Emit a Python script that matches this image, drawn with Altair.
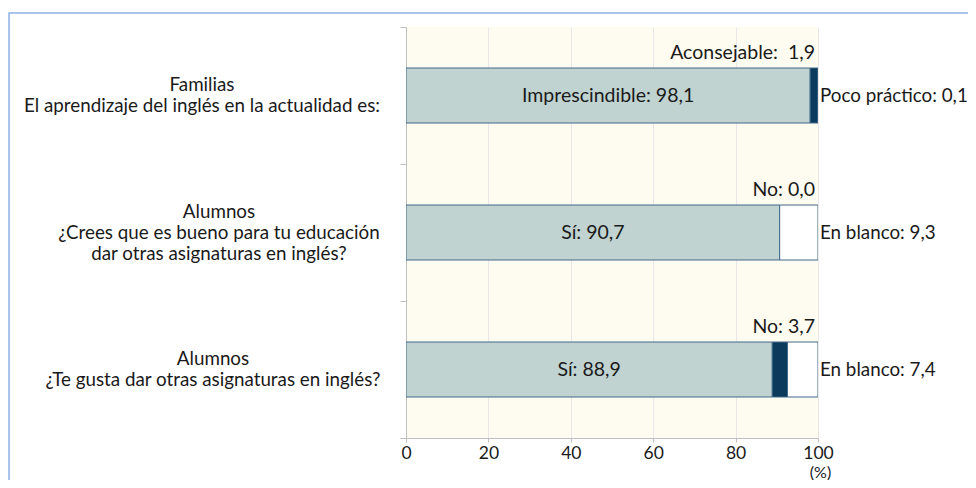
import altair as alt
import pandas as pd

# --- data ---
preguntas = [
    "Familias\nEl aprendizaje del inglés en la actualidad es:",
    "Alumnos\n¿Crees que es bueno para tu educación\ndar otras asignaturas en inglés?",
    "Alumnos\n¿Te gusta dar otras asignaturas en inglés?",
]
seg1_nombre = ["Imprescindible", "Sí", "Sí"]
seg1_valor = [98.1, 90.7, 88.9]
seg2_nombre = ["Aconsejable", "No", "No"]
seg2_valor = [1.9, 0.0, 3.7]
seg3_nombre = ["Poco práctico", "En blanco", "En blanco"]
seg3_valor = [0.1, 9.3, 7.4]
tipos = ["principal", "medio", "final"]
colores = ["#c0d3d1", "#0b3a5d", "#ffffff"]
x_ticks = [0, 20, 40, 60, 80, 100]

FONT = "Lato"
FS = 19.5
FS_LAB = 18.8
FS_RIGHT = 18.8
TXT = "#1a1a1a"
LH = 21


def fmt(v):
    return f"{v:.1f}".replace(".", ",")


rows = []
for i, q in enumerate(preguntas):
    rows.append(dict(pregunta=q, tipo="principal", orden=1, valor=seg1_valor[i]))
    rows.append(dict(pregunta=q, tipo="medio", orden=2, valor=seg2_valor[i]))
    rows.append(dict(pregunta=q, tipo="final", orden=3, valor=seg3_valor[i]))
bars_df = pd.DataFrame(rows)

in_df = pd.DataFrame({
    "pregunta": preguntas,
    "valor": seg1_valor,
    "texto": [f"{n}: {fmt(v)}" for n, v in zip(seg1_nombre, seg1_valor)],
})
top_df = pd.DataFrame({
    "pregunta": preguntas,
    "texto": [("Aconsejable:\u00a0\u00a0" if n == "Aconsejable" else f"{n}: ") + fmt(v)
              for n, v in zip(seg2_nombre, seg2_valor)],
})
right_df = pd.DataFrame({
    "pregunta": preguntas,
    "texto": [f"{n}: {fmt(v)}" for n, v in zip(seg3_nombre, seg3_valor)],
})
label_df = pd.DataFrame({"pregunta": preguntas, "etiqueta": preguntas})

y_sort = preguntas
y_enc = alt.Y(
    "pregunta:N",
    sort=y_sort,
    title=None,
    scale=alt.Scale(paddingInner=0, paddingOuter=0),
    axis=alt.Axis(
        labels=False,
        tickBand="extent",
        tickSize=6,
        tickColor="#bfbfbf",
        domainColor="#bfbfbf",
        grid=False,
    ),
)

x_scale = alt.Scale(domain=[0, 100], nice=False)

bars = alt.Chart(bars_df).mark_bar(size=55, stroke="#41698a", strokeWidth=1, clip=True).encode(
    x=alt.X(
        "valor:Q",
        stack="zero",
        scale=x_scale,
        axis=alt.Axis(
            values=x_ticks,
            title="(%)",
            titleX=414,
            titleY=34,
            titleAlign="center",
            titleBaseline="middle",
            titleFont=FONT,
            titleFontSize=16,
            titleFontWeight="normal",
            titleColor=TXT,
            labelFont=FONT,
            labelFontSize=17.5,
            labelColor=TXT,
            labelPadding=2,
            tickSize=4,
            tickColor="#bfbfbf",
            domainColor="#bfbfbf",
            gridColor="#e8e8e8",
            labelFlush=False,
        ),
    ),
    y=y_enc,
    color=alt.Color("tipo:N", scale=alt.Scale(domain=tipos, range=colores), legend=None),
    order=alt.Order("orden:Q"),
)

in_text = alt.Chart(in_df).transform_calculate(mid="datum.valor / 2").mark_text(
    font=FONT, fontSize=FS, color=TXT, align="center", baseline="middle"
).encode(x=alt.X("mid:Q", scale=x_scale), y=alt.Y("pregunta:N", sort=y_sort), text="texto:N")

top_text = alt.Chart(top_df).mark_text(
    font=FONT, fontSize=FS, color=TXT, align="right", baseline="middle", dy=-43, dx=-3
).encode(x=alt.datum(100), y=alt.Y("pregunta:N", sort=y_sort), text="texto:N")

right_text = alt.Chart(right_df).mark_text(
    font=FONT, fontSize=FS_RIGHT, color=TXT, align="left", baseline="middle", dx=2
).encode(x=alt.datum(100), y=alt.Y("pregunta:N", sort=y_sort), text="texto:N")

# category labels (centred block, one layer per question)
label_centres = [-204, -187, -193]
label_layers = []
for i, q in enumerate(preguntas):
    n = q.count("\n") + 1
    label_layers.append(
        alt.Chart(label_df).transform_filter(alt.datum.pregunta == q).mark_text(
            font=FONT, fontSize=FS_LAB, color=TXT, align="center", baseline="middle",
            lineBreak="\n", lineHeight=LH, dy=-(n - 1) * LH / 2,
        ).encode(x=alt.value(label_centres[i]), y=alt.Y("pregunta:N", sort=y_sort), text="etiqueta:N")
    )

frame = alt.Chart(pd.DataFrame({"k": [0]})).mark_rect(
    fill="transparent", stroke="#8db3e2", strokeWidth=1.5
).encode(
    x=alt.value(-397), x2=alt.value(900), y=alt.value(-14), y2=alt.value(900)
)

chart = alt.layer(frame, bars, in_text, top_text, right_text, *label_layers).properties(
    width=412,
    height=411,
    autosize=alt.AutoSizeParams(type="none"),
    padding={"left": 398, "top": 19, "right": 150, "bottom": 42},
    background="white",
).configure_view(fill="#fefcf0", stroke=None)

chart.save("out.html", embed_options={"renderer": "svg", "actions": False})
